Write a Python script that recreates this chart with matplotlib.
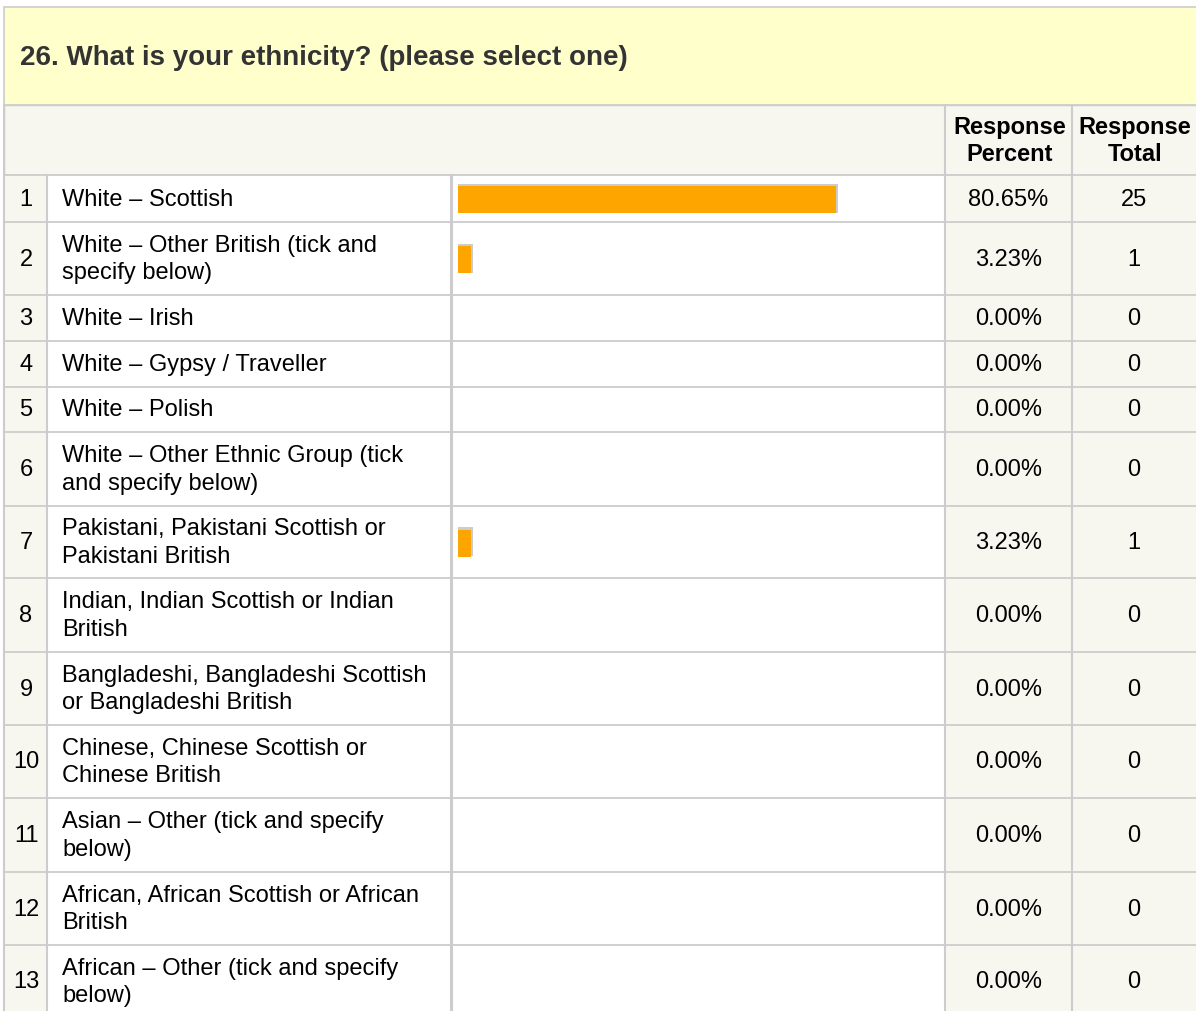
import matplotlib
matplotlib.use("Agg")
from matplotlib import pyplot as plt
from matplotlib.patches import Rectangle

plt.rcParams['font.family'] = ['Liberation Sans', 'DejaVu Sans']

title = "26. What is your ethnicity? (please select one)"
answers = [
    "White \u2013 Scottish",
    "White \u2013 Other British (tick and\nspecify below)",
    "White \u2013 Irish",
    "White \u2013 Gypsy / Traveller",
    "White \u2013 Polish",
    "White \u2013 Other Ethnic Group (tick\nand specify below)",
    "Pakistani, Pakistani Scottish or\nPakistani British",
    "Indian, Indian Scottish or Indian\nBritish",
    "Bangladeshi, Bangladeshi Scottish\nor Bangladeshi British",
    "Chinese, Chinese Scottish or\nChinese British",
    "Asian \u2013 Other (tick and specify\nbelow)",
    "African, African Scottish or African\nBritish",
    "African \u2013 Other (tick and specify\nbelow)",
]
percent = [80.65, 3.23, 0.00, 0.00, 0.00, 0.00, 3.23, 0.00, 0.00, 0.00, 0.00, 0.00, 0.00]
total = [25, 1, 0, 0, 0, 0, 1, 0, 0, 0, 0, 0, 0]
headers = ["Response\nPercent", "Response\nTotal"]

W, H = 1196, 1011
fig = plt.figure(figsize=(W / 100, H / 100), dpi=100)
ax = fig.add_axes([0, 0, 1, 1])
ax.set_xlim(0, W)
ax.set_ylim(H, 0)
ax.axis('off')

line_c = '#cccccc'
beige = '#f7f7f0'
orange = '#ffa500'
fs = 17

# column edges
x_num, x_lab, x_bar, x_pct, x_tot, x_end = 4, 47, 451, 945, 1072, 1196
# row edges
edges = [175, 222, 295, 341, 387, 432, 506, 578, 652, 725, 798, 872, 945, 1018]

# title block
ax.add_patch(Rectangle((x_num, 7), x_end - x_num + 5, 98, facecolor='#ffffcc',
                       edgecolor=line_c, lw=1.2))
ax.text(20, 58, title, fontsize=20, fontweight='bold', color='#333333',
        va='center', ha='left')

# header row
ax.add_patch(Rectangle((x_num, 105), x_end - x_num + 5, 70, facecolor=beige,
                       edgecolor=line_c, lw=1))
ax.plot([x_pct, x_pct], [105, 175], color=line_c, lw=1.5)
ax.plot([x_tot, x_tot], [105, 175], color=line_c, lw=1.5)
for cx, h in zip([(x_pct + x_tot) / 2, (x_tot + x_end) / 2], headers):
    ax.text(cx + 1, 141, h, fontsize=fs, fontweight='bold', color='#000000',
            ha='center', va='center', linespacing=1.25)

# body backgrounds
top, bot = edges[0], edges[-1]
ax.add_patch(Rectangle((x_num, top), x_lab - x_num, bot - top, facecolor=beige, lw=0))
ax.add_patch(Rectangle((x_lab, top), x_pct - x_lab, bot - top, facecolor='white', lw=0))
ax.add_patch(Rectangle((x_pct, top), x_end - x_pct + 5, bot - top, facecolor=beige, lw=0))

# grid lines
for y in edges[:-1]:
    ax.plot([x_num, x_end + 5], [y, y], color=line_c, lw=1.3)
ax.plot([x_num, x_num], [105, bot], color=line_c, lw=1.5)
ax.plot([x_lab, x_lab], [top, bot], color=line_c, lw=1.5)
ax.plot([x_bar, x_bar], [top, bot], color=line_c, lw=2.2)
ax.plot([x_pct, x_pct], [top, bot], color=line_c, lw=1.5)
ax.plot([x_tot, x_tot], [top, bot], color=line_c, lw=1.5)

centers = [(a + b) / 2 for a, b in zip(edges[:-1], edges[1:])]
centers[-1] = (edges[-2] + 1018) / 2

bar_left = 458
bar_full = 471  # px for 100%
widths = [p / 100 * bar_full for p in percent]
shown = [i for i, p in enumerate(percent) if p > 0]

# shadow then bar
ax.barh([centers[i] - 0.5 for i in shown], [widths[i] for i in shown], left=bar_left,
        height=29, color=line_c, align='center')
ax.barh([centers[i] + 1 for i in shown], [widths[i] - 2 for i in shown], left=bar_left,
        height=27, color=orange, align='center')

for i, c in enumerate(centers):
    ax.text((x_num + x_lab) / 2 + 0.5, c + 1, str(i + 1), fontsize=fs, color='#000000',
            ha='center', va='center')
    ax.text(62, c + 1, answers[i], fontsize=fs, color='#000000', ha='left', va='center',
            linespacing=1.32)
    ax.text((x_pct + x_tot) / 2, c + 1, "%.2f%%" % percent[i], fontsize=fs, color='#000000',
            ha='center', va='center')
    ax.text((x_tot + x_end) / 2, c + 1, str(total[i]), fontsize=fs, color='#000000',
            ha='center', va='center')

fig.savefig("out.png", dpi=100, facecolor='white')
